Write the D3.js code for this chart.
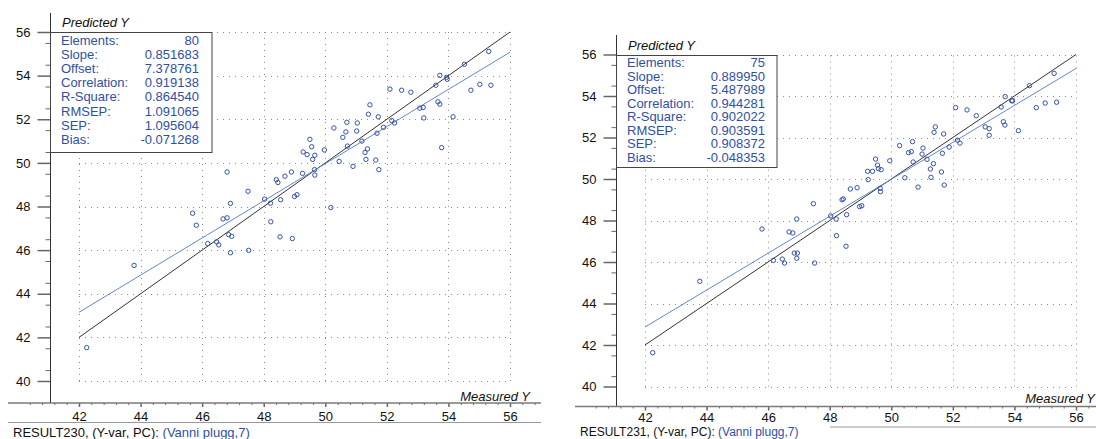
<!DOCTYPE html>
<meta charset="utf-8">
<style type="text/css">
    body { margin: 0; background: #fff; }
    svg text { font-family: "Liberation Sans", Arial, sans-serif; font-size: 13px; }
    .grid line { stroke: #8c8c8c; stroke-width: 1; stroke-dasharray: 1,5; }
    .axis text { fill: #111; }
    .axis line { stroke: #666; }
    .minor line { stroke: #666; }
    .ideal { fill: none; stroke: #333; stroke-width: 1; }
    .fit { fill: none; stroke: #6685cc; stroke-width: 1; }
    .dot { fill: none; stroke: #3553a6; stroke-width: 1; }
    .stats rect { fill: #fff; stroke: #444; stroke-width: 1; }
    .stats text { fill: #2f4fa6; }
    .title { font-style: italic; fill: #111; }
</style>
<body>
</body>

<script src="https://cdn.jsdelivr.net/npm/d3@7"></script>
<script>

    // tick values shared by both plots
    var xTicks = [42, 44, 46, 48, 50, 52, 54, 56];
    var yTicks = [40, 42, 44, 46, 48, 50, 52, 54, 56];

    var statNames = ["Elements:", "Slope:", "Offset:", "Correlation:", "R-Square:", "RMSEP:", "SEP:", "Bias:"];
    var statsLeft = ["80", "0.851683", "7.378761", "0.919138", "0.864540", "1.091065", "1.095604", "-0.071268"];
    var statsRight = ["75", "0.889950", "5.487989", "0.944281", "0.902022", "0.903591", "0.908372", "-0.048353"];

    // RESULT230 : measured / predicted
    var measuredLeft = [42.25, 43.79, 45.69, 45.81, 46.18, 46.47, 46.54, 46.68, 46.81, 46.81,
        46.86, 46.96, 46.92, 46.92, 47.49, 47.51, 48.03, 48.22, 48.23, 48.41,
        48.46, 48.55, 48.53, 48.69, 48.90, 48.93, 49.00, 49.08, 49.26, 49.28,
        49.41, 49.50, 49.56, 49.59, 49.66, 49.65, 49.66, 49.97, 50.18, 50.28,
        50.45, 50.57, 50.67, 50.70, 50.72, 50.90, 51.02, 51.04, 51.19, 51.29,
        51.37, 51.32, 51.40, 51.45, 51.64, 51.68, 51.72, 51.74, 51.89, 52.10,
        52.16, 52.25, 52.48, 52.78, 53.07, 53.18, 53.20, 53.59, 53.66, 53.72,
        53.72, 53.78, 53.94, 53.96, 54.15, 54.52, 54.73, 55.02, 55.31, 55.38];
    var predictedLeft = [41.53, 45.30, 47.69, 47.14, 46.30, 46.38, 46.24, 47.43, 47.48, 49.58,
        46.71, 46.63, 45.88, 48.14, 48.70, 45.99, 48.34, 48.15, 47.30, 49.23,
        49.10, 48.31, 46.61, 49.39, 49.58, 46.53, 48.46, 48.54, 49.52, 50.50,
        50.38, 51.08, 50.74, 50.16, 50.35, 49.69, 49.44, 50.59, 47.95, 51.60,
        50.07, 51.17, 51.42, 51.86, 50.77, 49.84, 51.46, 51.83, 51.00, 50.48,
        50.64, 50.16, 52.23, 52.66, 50.13, 51.36, 52.11, 49.69, 51.63, 53.38,
        51.94, 51.83, 53.33, 53.24, 52.51, 52.54, 52.06, 53.56, 52.80, 52.69,
        54.01, 50.70, 53.92, 53.83, 52.11, 54.52, 53.33, 53.60, 55.11, 53.56];

    // RESULT231 : measured / predicted
    var measuredRight = [42.25, 43.78, 45.80, 46.17, 46.46, 46.53, 46.68, 46.80, 46.93, 46.85,
        46.95, 46.93, 47.47, 47.51, 48.03, 48.21, 48.22, 48.53, 48.55, 48.40,
        48.44, 48.67, 48.89, 48.97, 49.04, 49.23, 49.25, 49.39, 49.49, 49.55,
        49.58, 49.67, 49.64, 49.65, 49.95, 50.27, 50.44, 50.56, 50.65, 50.69,
        50.71, 50.87, 51.00, 51.03, 51.16, 51.27, 51.37, 51.29, 51.39, 51.43,
        51.63, 51.66, 51.70, 51.72, 51.88, 52.09, 52.15, 52.23, 52.46, 52.76,
        53.05, 53.18, 53.18, 53.57, 53.64, 53.69, 53.70, 53.91, 53.94, 54.13,
        54.49, 54.71, 55.00, 55.29, 55.37];
    var predictedRight = [41.63, 45.07, 47.59, 46.08, 46.14, 45.95, 47.45, 47.40, 48.07, 46.43,
        46.43, 46.18, 48.81, 45.95, 48.22, 48.07, 47.27, 46.76, 48.28, 49.00,
        49.04, 49.52, 49.58, 48.67, 48.71, 50.37, 49.97, 50.37, 50.96, 50.67,
        50.50, 50.45, 49.55, 49.39, 50.88, 51.61, 50.06, 51.27, 51.32, 51.80,
        50.82, 49.61, 51.20, 51.49, 50.95, 50.48, 50.74, 50.08, 52.25, 52.51,
        50.34, 51.24, 52.17, 49.71, 51.54, 53.44, 51.87, 51.73, 53.33, 53.05,
        52.51, 52.43, 52.11, 53.47, 52.76, 52.60, 53.97, 53.77, 53.77, 52.33,
        54.50, 53.44, 53.66, 55.09, 53.70];

    var lineRange = [42, 56];

    var svg = d3.select("body").append("svg")
        .attr("width", 1096)
        .attr("height", 439);

    // layout for each plot, in page pixels
    var panels = [
        {
            measured: measuredLeft, predicted: predictedLeft, stats: statsLeft, name: "RESULT230",
            xRange: [79, 510], yRange: [381, 32],
            axisX: 50.5, axisTop: 13, axisY: 403, axisLeft: 8, axisRight: 541,
            labelPad: 5, sepY: 422.5, sepX: [8, 541], footX: 13, footY: 436.5, footSize: 13,
            titleX: 62, titleY: 27, boxRight: 212, boxBottom: 152,
            rowY: 45, rowStep: 14.1, nameX: 61, valX: 199, measX: 530, measY: 400.5
        },
        {
            measured: measuredRight, predicted: predictedRight, stats: statsRight, name: "RESULT231",
            xRange: [645, 1076], yRange: [386.5, 54.5],
            axisX: 616.5, axisTop: 35, axisY: 406.5, axisLeft: 575, axisRight: 1096,
            labelPad: 2, sepY: 427, sepX: [830, 1096], footX: 580, footY: 435.5, footSize: 12,
            titleX: 628, titleY: 49.5, boxRight: 777, boxBottom: 167,
            rowY: 67, rowStep: 13.5, nameX: 627, valX: 765, measX: 1095, measY: 402.5
        }
    ];

    panels.forEach(drawPanel);

    function drawPanel(p) {
        var x = d3.scaleLinear().domain([42, 56]).range(p.xRange);
        var y = d3.scaleLinear().domain([40, 56]).range(p.yRange);
        var g = svg.append("g");

        // dotted grid
        var grid = g.append("g").attr("class", "grid");
        grid.selectAll(".gx").data(xTicks).enter().append("line")
            .attr("x1", function(d) { return Math.round(x(d)) + 0.5; })
            .attr("x2", function(d) { return Math.round(x(d)) + 0.5; })
            .attr("y1", y(40)).attr("y2", y(56));
        grid.selectAll(".gy").data(yTicks).enter().append("line")
            .attr("y1", function(d) { return Math.round(y(d)) + 0.5; })
            .attr("y2", function(d) { return Math.round(y(d)) + 0.5; })
            .attr("x1", x(42)).attr("x2", x(56));

        // ideal and fitted lines
        var slope = +p.stats[1], offset = +p.stats[2];
        g.append("path").attr("class", "ideal")
            .attr("d", d3.line().x(function(d) { return x(d); }).y(function(d) { return y(d); })(lineRange));
        g.append("path").attr("class", "fit")
            .attr("d", d3.line().x(function(d) { return x(d); }).y(function(d) { return y(slope * d + offset); })(lineRange));

        // samples
        g.selectAll(".dot").data(p.measured).enter().append("circle")
            .attr("class", "dot")
            .attr("cx", function(d) { return x(d); })
            .attr("cy", function(d, i) { return y(p.predicted[i]); })
            .attr("r", 2.2);

        // y axis
        var ya = g.append("g").attr("class", "axis")
            .attr("transform", "translate(" + p.axisX + ",0)")
            .call(d3.axisLeft(y).tickValues(yTicks).tickSize(13).tickPadding(7).tickFormat(d3.format("d")));
        ya.select(".domain").remove();
        ya.selectAll("line").attr("stroke-width", 1.5);
        var ym = g.append("g").attr("class", "minor")
            .attr("transform", "translate(" + p.axisX + ",0)")
            .call(d3.axisLeft(y).tickValues(d3.range(40.5, 56, 1)).tickSize(5).tickFormat(""));
        ym.select(".domain").remove();
        g.append("line").attr("x1", p.axisX).attr("x2", p.axisX)
            .attr("y1", p.axisTop).attr("y2", p.axisY).attr("stroke", "#333");

        // x axis
        var xa = g.append("g").attr("class", "axis")
            .attr("transform", "translate(0," + p.axisY + ")")
            .call(d3.axisBottom(x).tickValues(xTicks).tickSize(4).tickPadding(p.labelPad).tickFormat(d3.format("d")));
        xa.select(".domain").remove();
        xa.selectAll("line").attr("stroke-width", 1.5);
        var minorX = d3.range(40, 57.01, 0.4).filter(function(v) { return Math.abs(v / 2 - Math.round(v / 2)) > 0.01; });
        var xm = g.append("g").attr("class", "minor")
            .attr("transform", "translate(0," + p.axisY + ")")
            .call(d3.axisBottom(x).tickValues(minorX).tickSize(2).tickFormat(""));
        xm.select(".domain").remove();
        g.append("line").attr("x1", p.axisLeft).attr("x2", p.axisRight)
            .attr("y1", p.axisY).attr("y2", p.axisY)
            .attr("stroke", "#7a7a7a").attr("stroke-width", 1.5);

        g.append("text").attr("class", "title")
            .attr("x", p.measX).attr("y", p.measY).attr("text-anchor", "end")
            .text("Measured Y");
        g.append("text").attr("class", "title")
            .attr("x", p.titleX).attr("y", p.titleY)
            .text("Predicted Y");

        // statistics box
        var box = g.append("g").attr("class", "stats");
        box.append("rect")
            .attr("x", p.axisX).attr("y", Math.round(y(56)) + 0.5)
            .attr("width", p.boxRight - p.axisX).attr("height", p.boxBottom - Math.round(y(56)));
        box.selectAll(".sn").data(statNames).enter().append("text")
            .attr("x", p.nameX)
            .attr("y", function(d, i) { return p.rowY + i * p.rowStep; })
            .text(function(d) { return d; });
        box.selectAll(".sv").data(p.stats).enter().append("text")
            .attr("x", p.valX).attr("text-anchor", "end")
            .attr("y", function(d, i) { return p.rowY + i * p.rowStep; })
            .text(function(d) { return d; });

        // footer
        g.append("line").attr("x1", p.sepX[0]).attr("x2", p.sepX[1])
            .attr("y1", p.sepY).attr("y2", p.sepY).attr("stroke", "#999");
        var foot = g.append("text").attr("x", p.footX).attr("y", p.footY)
            .style("font-size", p.footSize + "px");
        foot.append("tspan").attr("fill", "#111").text(p.name + ", (Y-var, PC): ");
        foot.append("tspan").attr("fill", "#2f4fa6").text("(Vanni plugg,7)");
    }
</script>
